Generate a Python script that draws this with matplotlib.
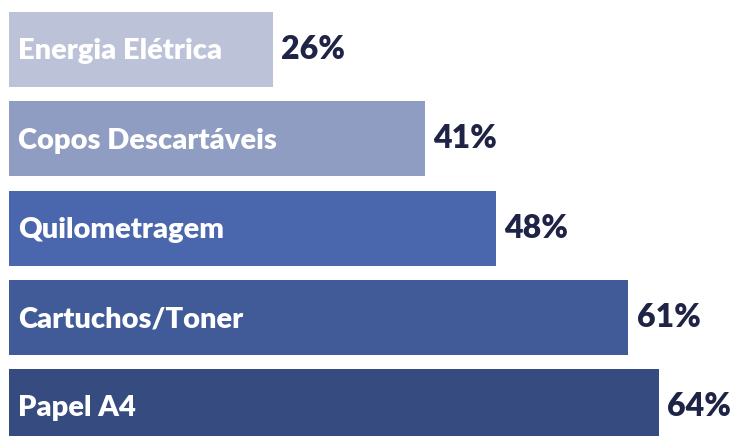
import matplotlib

matplotlib.use("Agg")
import matplotlib.pyplot as plt

categories = ["Energia Elétrica", "Copos Descartáveis", "Quilometragem", "Cartuchos/Toner", "Papel A4"]
values = [26, 41, 48, 61, 64]
bar_colors = ["#BCC3D9", "#8F9DC3", "#4A66AC", "#415B99", "#364B80"]

plt.rcParams["font.family"] = ["Lato", "DejaVu Sans"]

fig = plt.figure(figsize=(7.36, 4.36), dpi=100)
ax = fig.add_axes([0, 0, 1, 1])

pos = list(range(len(categories)))
ax.barh(pos, values, height=0.84, left=0, color=bar_colors, linewidth=0)

for y, name, v in zip(pos, categories, values):
    ax.text(0.85, y + 0.02, name, color="white", fontsize=21, fontweight="heavy",
            va="center", ha="left")
    ax.text(v + 0.8, y, f"{v}%", color="#1F2346", fontsize=23, fontweight="heavy",
            va="center", ha="left")

ax.set_xlim(-0.9, 71.6)
ax.set_ylim(4.33, -0.555)
ax.axis("off")

fig.savefig("out.png", dpi=100)
